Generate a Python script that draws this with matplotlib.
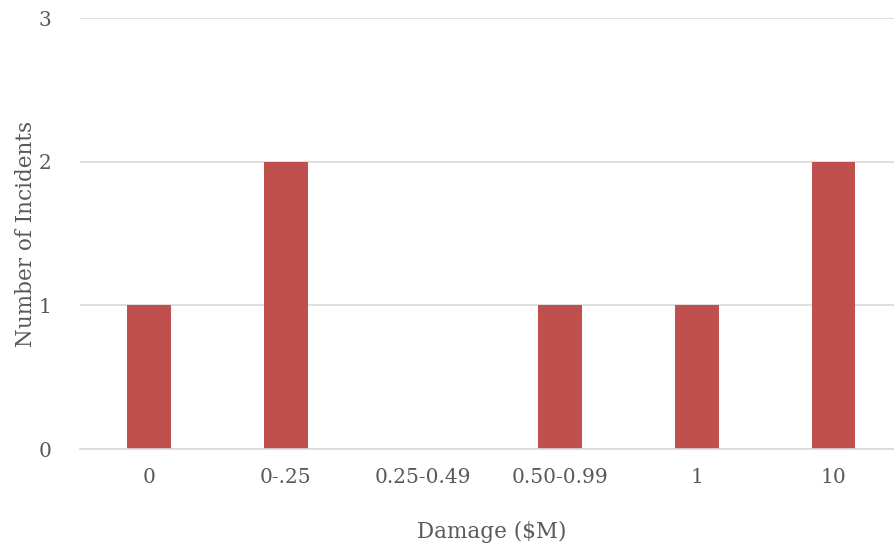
import matplotlib.pyplot as plt

categories = ['0', '0-.25', '0.25-0.49', '0.50-0.99', '1', '10']
incidents = [1, 2, 0, 1, 1, 2]

plt.rcParams['font.family'] = ['DejaVu Serif']

fig = plt.figure(figsize=(8.94, 5.5), dpi=100)
ax = fig.add_axes([0.090, 0.1836, 0.919, 0.7836])

x = range(len(categories))
ax.bar(x, incidents, width=0.32, color='#C0504D', zorder=2)

ax.set_xlim(-0.5, len(categories) - 0.5)
ax.set_ylim(0, 3)
ax.set_yticks([0, 1, 2, 3])
ax.set_xticks(list(x))
ax.set_xticklabels(categories)

ax.grid(axis='y', color='#D9D9D9', linewidth=1.2, zorder=0)
for s in ['top', 'right', 'left']:
    ax.spines[s].set_visible(False)
ax.spines['bottom'].set_color('#D9D9D9')
ax.spines['bottom'].set_linewidth(1.2)

ax.tick_params(axis='both', length=0, labelsize=14.5, colors='#595959')
ax.tick_params(axis='y', pad=21)
ax.tick_params(axis='x', pad=14)

ax.set_xlabel('Damage ($M)', fontsize=15.5, color='#595959', labelpad=24)
ax.set_ylabel('Number of Incidents', fontsize=15.5, color='#595959')
# put the y label where the reference has it
ax.yaxis.set_label_coords(-0.053, 0.5)

fig.savefig('out.png', dpi=100)
